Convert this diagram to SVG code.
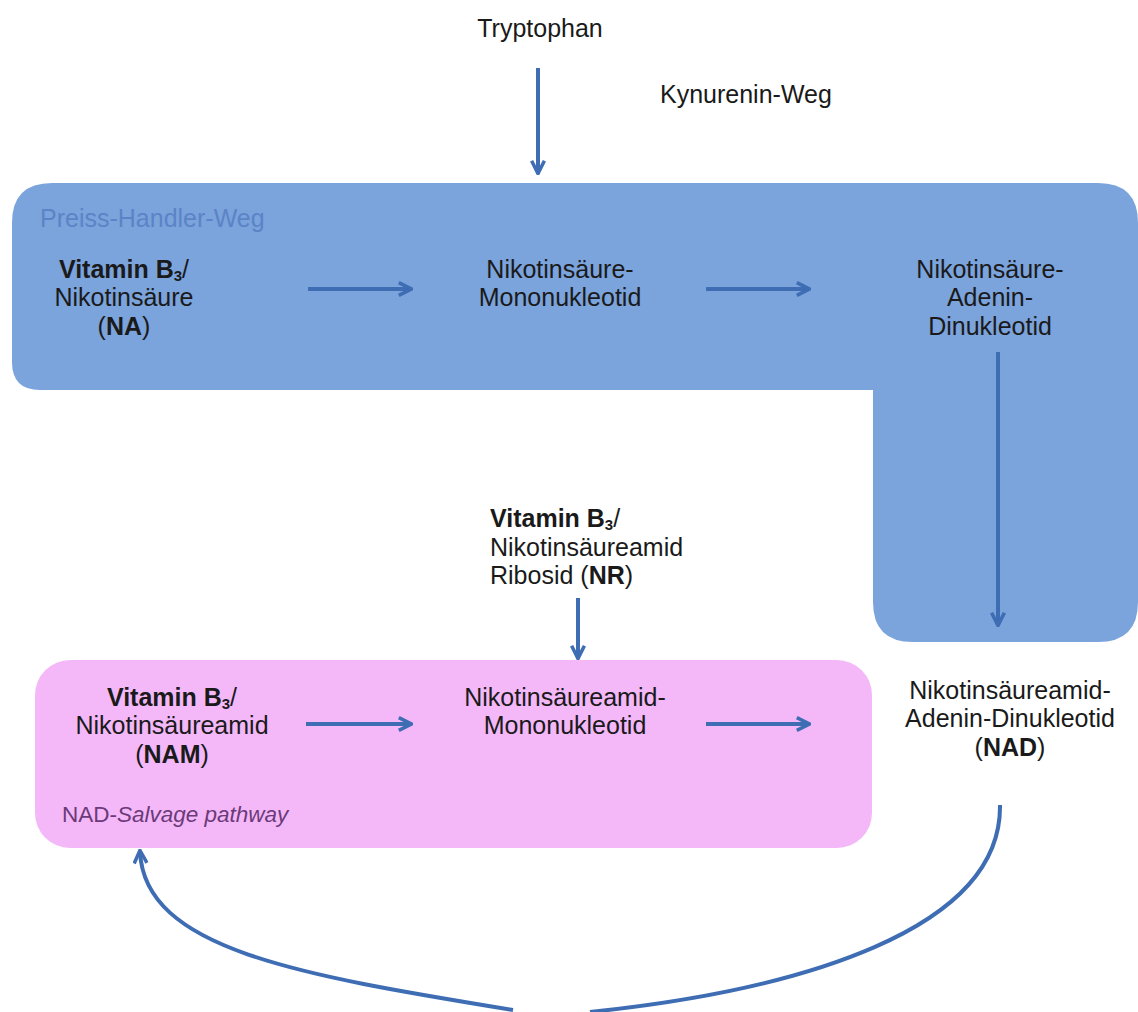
<svg xmlns="http://www.w3.org/2000/svg" width="1138" height="1012" viewBox="0 0 1138 1012">
<style>
text{font-family:"Liberation Sans",Arial,sans-serif;font-size:25px;fill:#1a1a1a}
.c{text-anchor:middle}
.b{font-weight:bold}
.sub{font-size:15px}
.conn{stroke:#3e6db4;stroke-width:4;fill:none}
</style>
<defs>
<marker id="ah" viewBox="0 0 10 10" refX="8" refY="5" markerWidth="4" markerHeight="4" orient="auto" markerUnits="strokeWidth">
<path d="M1,1 L9,5 L1,9" fill="none" stroke="#3e6db4" stroke-width="2.2"/>
</marker>
</defs>
<rect width="1138" height="1012" fill="#ffffff"/>

<g id="preiss-handler">
<path d="M52,183 H1098 Q1138,183 1138,223 V602 Q1138,642 1098,642 H913 Q873,642 873,602 V390 H40 Q12,390 12,362 V223 Q12,183 52,183 Z" fill="#7ba3dc"/>
<text x="40" y="227" style="fill:#5b84c6">Preiss-Handler-Weg</text>
</g>

<g id="salvage">
<rect x="35" y="660" width="837" height="188" rx="35" fill="#f4b8f9"/>
<text x="62" y="822" style="fill:#6b3a78;font-size:22.5px">NAD-<tspan font-style="italic">Salvage pathway</tspan></text>
</g>

<g id="tryptophan"><text class="c" x="540" y="37">Tryptophan</text></g>
<g id="kynurenin"><text x="660" y="103">Kynurenin-Weg</text></g>

<g id="na">
<text class="c" x="124" y="278"><tspan class="b">Vitamin B<tspan class="sub" dy="3">3</tspan></tspan><tspan dy="-3">/</tspan></text>
<text class="c" x="124" y="306">Nikotinsäure</text>
<text class="c" x="124" y="335">(<tspan class="b">NA</tspan>)</text>
</g>

<g id="namn">
<text class="c" x="560" y="278">Nikotinsäure-</text>
<text class="c" x="560" y="306">Mononukleotid</text>
</g>

<g id="naad">
<text class="c" x="990" y="278">Nikotinsäure-</text>
<text class="c" x="990" y="306">Adenin-</text>
<text class="c" x="990" y="335">Dinukleotid</text>
</g>

<g id="nr">
<text x="490" y="527"><tspan class="b">Vitamin B<tspan class="sub" dy="3">3</tspan></tspan><tspan dy="-3">/</tspan></text>
<text x="490" y="556">Nikotinsäureamid</text>
<text x="490" y="584">Ribosid (<tspan class="b">NR</tspan>)</text>
</g>

<g id="nam">
<text class="c" x="172" y="706"><tspan class="b">Vitamin B<tspan class="sub" dy="3">3</tspan></tspan><tspan dy="-3">/</tspan></text>
<text class="c" x="172" y="734">Nikotinsäureamid</text>
<text class="c" x="172" y="763">(<tspan class="b">NAM</tspan>)</text>
</g>

<g id="nmn">
<text class="c" x="565" y="706">Nikotinsäureamid-</text>
<text class="c" x="565" y="734">Mononukleotid</text>
</g>

<g id="nad">
<text class="c" x="1010" y="699">Nikotinsäureamid-</text>
<text class="c" x="1010" y="727">Adenin-Dinukleotid</text>
<text class="c" x="1010" y="756">(<tspan class="b">NAD</tspan>)</text>
</g>

<g id="connectors">
<line class="conn" x1="538" y1="68" x2="538" y2="172" marker-end="url(#ah)"/>
<line class="conn" x1="308" y1="289" x2="410" y2="289" marker-end="url(#ah)"/>
<line class="conn" x1="706" y1="289" x2="808" y2="289" marker-end="url(#ah)"/>
<line class="conn" x1="998" y1="352" x2="998" y2="624" marker-end="url(#ah)"/>
<line class="conn" x1="578" y1="598" x2="578" y2="657" marker-end="url(#ah)"/>
<line class="conn" x1="306" y1="724" x2="410" y2="724" marker-end="url(#ah)"/>
<line class="conn" x1="706" y1="724" x2="808" y2="724" marker-end="url(#ah)"/>
<path class="conn" d="M1000,805 C1002,930 800,990 590,1012"/>
<path class="conn" d="M513,1010 C300,975 145,950 140,852" marker-end="url(#ah)"/>
</g>
</svg>
